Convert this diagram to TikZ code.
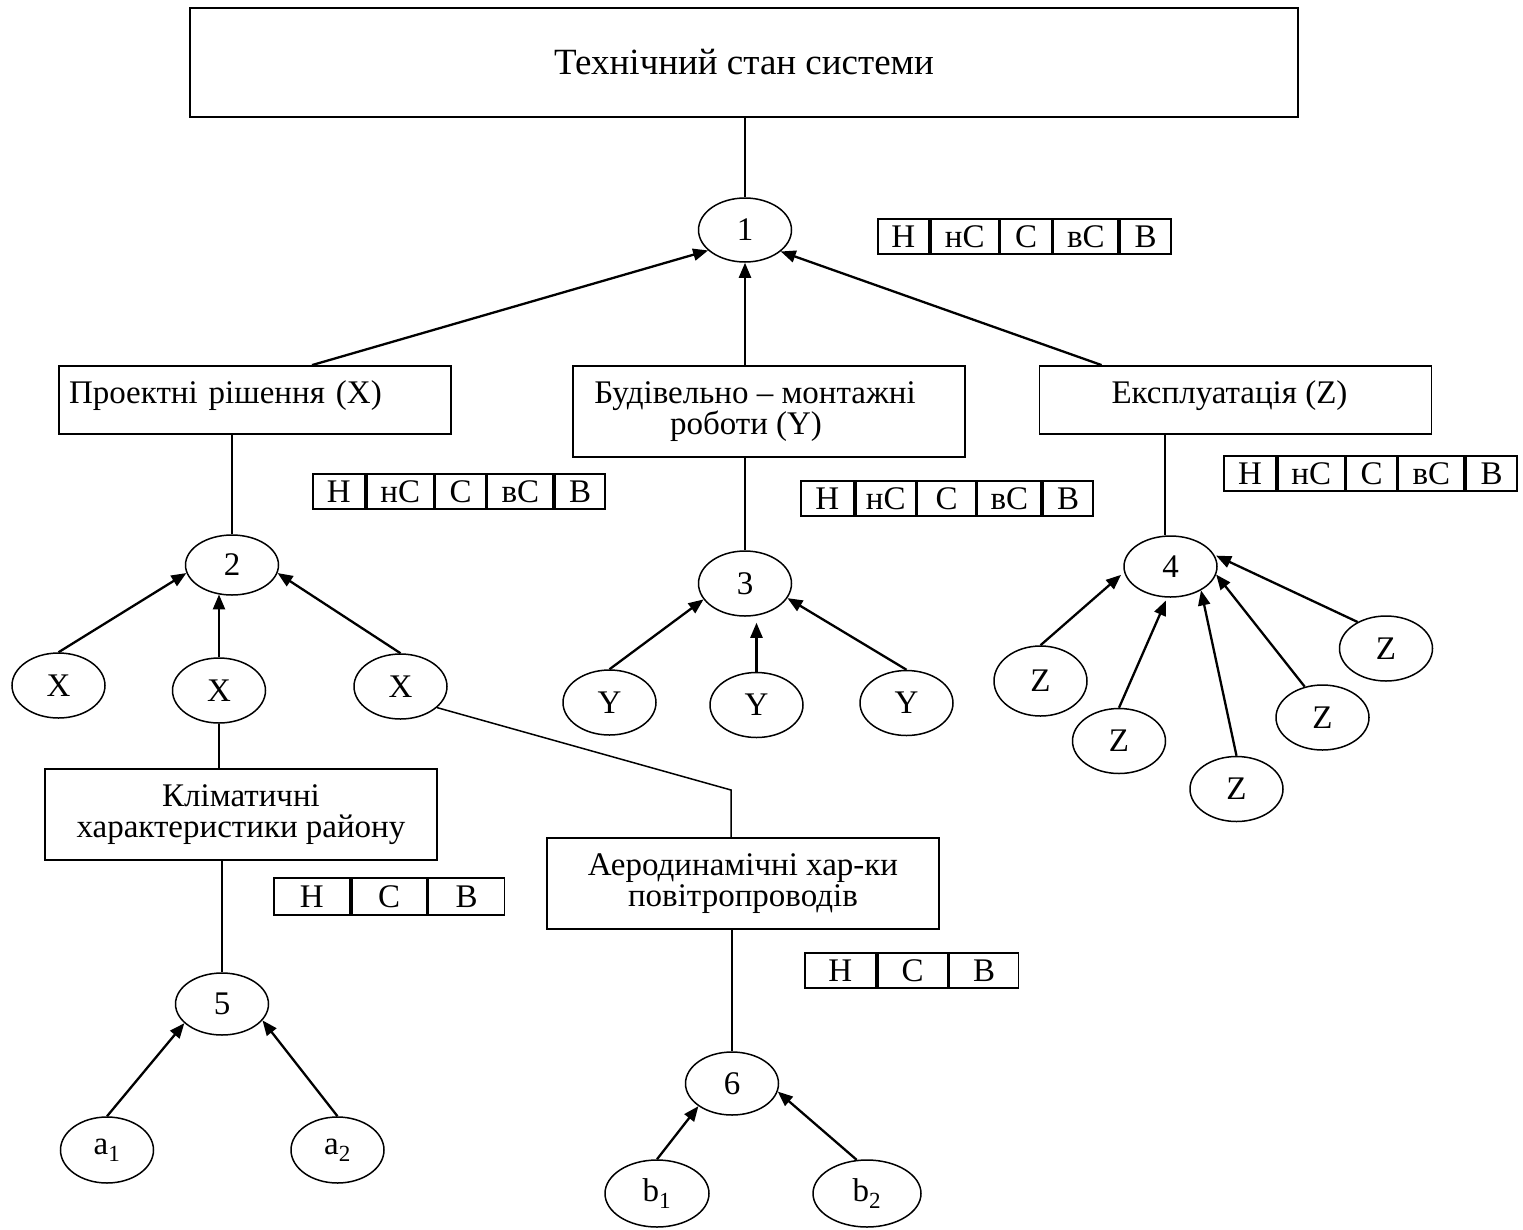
\documentclass[tikz,border=0pt]{standalone}
\usepackage{fontspec}
\setmainfont{Liberation Serif}
\usetikzlibrary{shapes.geometric,arrows.meta,positioning}
\newcommand{\dfont}{\fontsize{33}{31}\selectfont}
\newcommand{\tfont}{\fontsize{37}{40}\selectfont}
\begin{document}
\begin{tikzpicture}[x=1pt,y=-1pt,
  box/.style={draw,line width=1.8pt,rectangle,inner sep=0pt,align=center,font=\dfont},
  ell/.style={draw,ellipse,line width=1.5pt,inner sep=0pt,minimum width=93pt,minimum height=65pt,font=\dfont},
  ln/.style={line width=1.5pt},
  arr/.style={line width=2.3pt,-{Triangle[length=15pt,width=12pt]}},
  cell/.style={draw,line width=1.8pt,rectangle,inner sep=0pt,minimum height=35pt,font=\dfont}]
\useasboundingbox (0,0) rectangle (1523,1229);
\fill[white] (0,0) rectangle (1523,1229);

% boxes
\node[box,minimum width=1108pt,minimum height=109pt,font=\tfont] (top) at (744,62.5) {Технічний стан системи};
\node[box,minimum width=392pt,minimum height=68pt,text width=380pt,inner xsep=6pt,inner ysep=0pt,align=left,text height=23pt,text depth=17pt] (bx) at (255,400) {\hspace*{4pt}Проектні рішення (X)};
\node[box,minimum width=392pt,minimum height=91pt] (by) at (769,411.5) {Будівельно – монтажні\hspace*{28pt}\\роботи (Y)\hspace*{46pt}};
\node[box,minimum width=392pt,minimum height=68pt,text height=23pt,text depth=17pt] (bz) at (1235.5,400) {Експлуатація (Z)\hspace*{12pt}};
\node[box,minimum width=392pt,minimum height=91pt] (klim) at (241,814.5) {Кліматичні\\характеристики району};
\node[box,minimum width=392pt,minimum height=91pt] (aero) at (743,883.5) {Аеродинамічні хар-ки\\повітропроводів};

% ellipses
\node[ell,minimum height=64pt] (e1) at (745,230) {1};
\node[ell,minimum height=60pt] (e2) at (232,565) {2};
\node[ell] (X1) at (58.5,685.5) {X};
\node[ell] (X2) at (219,690.5) {X};
\node[ell] (X3) at (400.5,686.5) {X};
\node[ell] (e3) at (745,583.5) {3};
\node[ell] (Y1) at (609.5,702.5) {Y};
\node[ell] (Y2) at (756.5,705) {Y};
\node[ell] (Y3) at (906.5,703) {Y};
\node[ell,minimum height=61pt] (e4) at (1170.5,566.5) {4};
\node[ell,minimum height=70pt] (Z1) at (1040.5,681) {Z};
\node[ell] (Z2) at (1119,741) {Z};
\node[ell] (Z3) at (1236.5,789) {Z};
\node[ell] (Z4) at (1322.5,717.5) {Z};
\node[ell] (Z5) at (1386,648.5) {Z};
\node[ell,minimum height=62pt] (e5) at (222,1004) {5};
\node[ell,minimum height=66pt] (a1) at (107,1150) {a\textsubscript{1}};
\node[ell,minimum height=66pt] (a2) at (337.5,1150) {a\textsubscript{2}};
\node[ell,minimum height=63pt] (e6) at (732,1083.5) {6};
\node[ell,minimum width=104pt,minimum height=67pt] (b1) at (657,1193.5) {b\textsubscript{1}};
\node[ell,minimum width=108pt,minimum height=67pt] (b2) at (867,1193.5) {b\textsubscript{2}};

% tables
\node[cell,minimum width=51pt,anchor=north west] (t1a) at (877,218) {Н};
\node[cell,minimum width=68pt,right=0pt of t1a] (t1b) {нС};
\node[cell,minimum width=51pt,right=0pt of t1b] (t1c) {С};
\node[cell,minimum width=65pt,right=0pt of t1c] (t1d) {вС};
\node[cell,minimum width=51pt,right=0pt of t1d] (t1e) {В};

\node[cell,minimum width=52pt,anchor=north west] (t2a) at (312,473) {Н};
\node[cell,minimum width=67pt,right=0pt of t2a] (t2b) {нС};
\node[cell,minimum width=50pt,right=0pt of t2b] (t2c) {С};
\node[cell,minimum width=66pt,right=0pt of t2c] (t2d) {вС};
\node[cell,minimum width=50pt,right=0pt of t2d] (t2e) {В};

\node[cell,minimum width=53pt,anchor=north west] (t3a) at (800,480) {Н};
\node[cell,minimum width=60pt,right=0pt of t3a] (t3b) {нС};
\node[cell,minimum width=58pt,right=0pt of t3b] (t3c) {С};
\node[cell,minimum width=64pt,right=0pt of t3c] (t3d) {вС};
\node[cell,minimum width=50pt,right=0pt of t3d] (t3e) {В};

\node[cell,minimum width=52pt,anchor=north west] (t4a) at (1223,455) {Н};
\node[cell,minimum width=67pt,right=0pt of t4a] (t4b) {нС};
\node[cell,minimum width=50pt,right=0pt of t4b] (t4c) {С};
\node[cell,minimum width=66pt,right=0pt of t4c] (t4d) {вС};
\node[cell,minimum width=51pt,right=0pt of t4d] (t4e) {В};

\node[cell,minimum width=76pt,minimum height=37pt,anchor=north west] (t5a) at (273,877) {Н};
\node[cell,minimum width=75pt,minimum height=37pt,right=0pt of t5a] (t5b) {С};
\node[cell,minimum width=76pt,minimum height=37pt,right=0pt of t5b] (t5c) {В};

\node[cell,minimum width=71pt,anchor=north west] (t6a) at (804,952) {Н};
\node[cell,minimum width=70pt,right=0pt of t6a] (t6b) {С};
\node[cell,minimum width=69pt,right=0pt of t6b] (t6c) {В};

% connectors
\draw[ln] (top.south -| e1.north) -- (e1.north);
\draw[arr] ([xshift=57pt]bx.north) -- (e1.209);
\draw[arr] (by.north -| e1.south) -- (e1.south);
\draw[arr] ([xshift=63pt]bz.north west) -- (e1.329);
\draw[ln] (bx.south -| e2.north) -- (e2.north);
\draw[ln] (by.south -| e3.north) -- (e3.north);
\draw[ln] (bz.south -| e4.100) -- (e4.100);

\draw[arr] (X1.north) -- (e2.190);
\draw[arr] (X2.north) -- (X2.north |- e2.245);
\draw[arr] (X3.north) -- (e2.350);

\draw[arr] (Y1.north) -- (e3.201);
\draw[arr,shorten >=6pt] (Y2.north) -- (Y2.north |- e3.south);
\draw[arr] (Y3.north) -- (e3.341);

\draw[arr,shorten >=4pt] (Z1.north) -- (e4.187);
\draw[arr,shorten >=3pt] (Z2.north) -- (e4.264);
\draw[arr] (Z3.north) -- (e4.322);
\draw[arr] (Z4.120) -- (e4.350);
\draw[arr,shorten >=2pt] (Z5.137) -- (e4.15);

\draw[ln] (X2.south) -- (X2.south |- klim.north);
\coordinate (bend) at (731,790);
\draw[ln] (X3.330) -- (bend) -- (bend |- aero.north);
\draw[ln] (klim.south -| e5.north) -- (e5.north);
\draw[ln] (aero.south -| e6.north) -- (e6.north);

\draw[arr] (a1.north) -- (e5.207);
\draw[arr] (a2.north) -- (e5.338);
\draw[arr] (b1.north) -- (e6.214);
\draw[arr] (b2.107) -- (e6.350);
\end{tikzpicture}
\end{document}
